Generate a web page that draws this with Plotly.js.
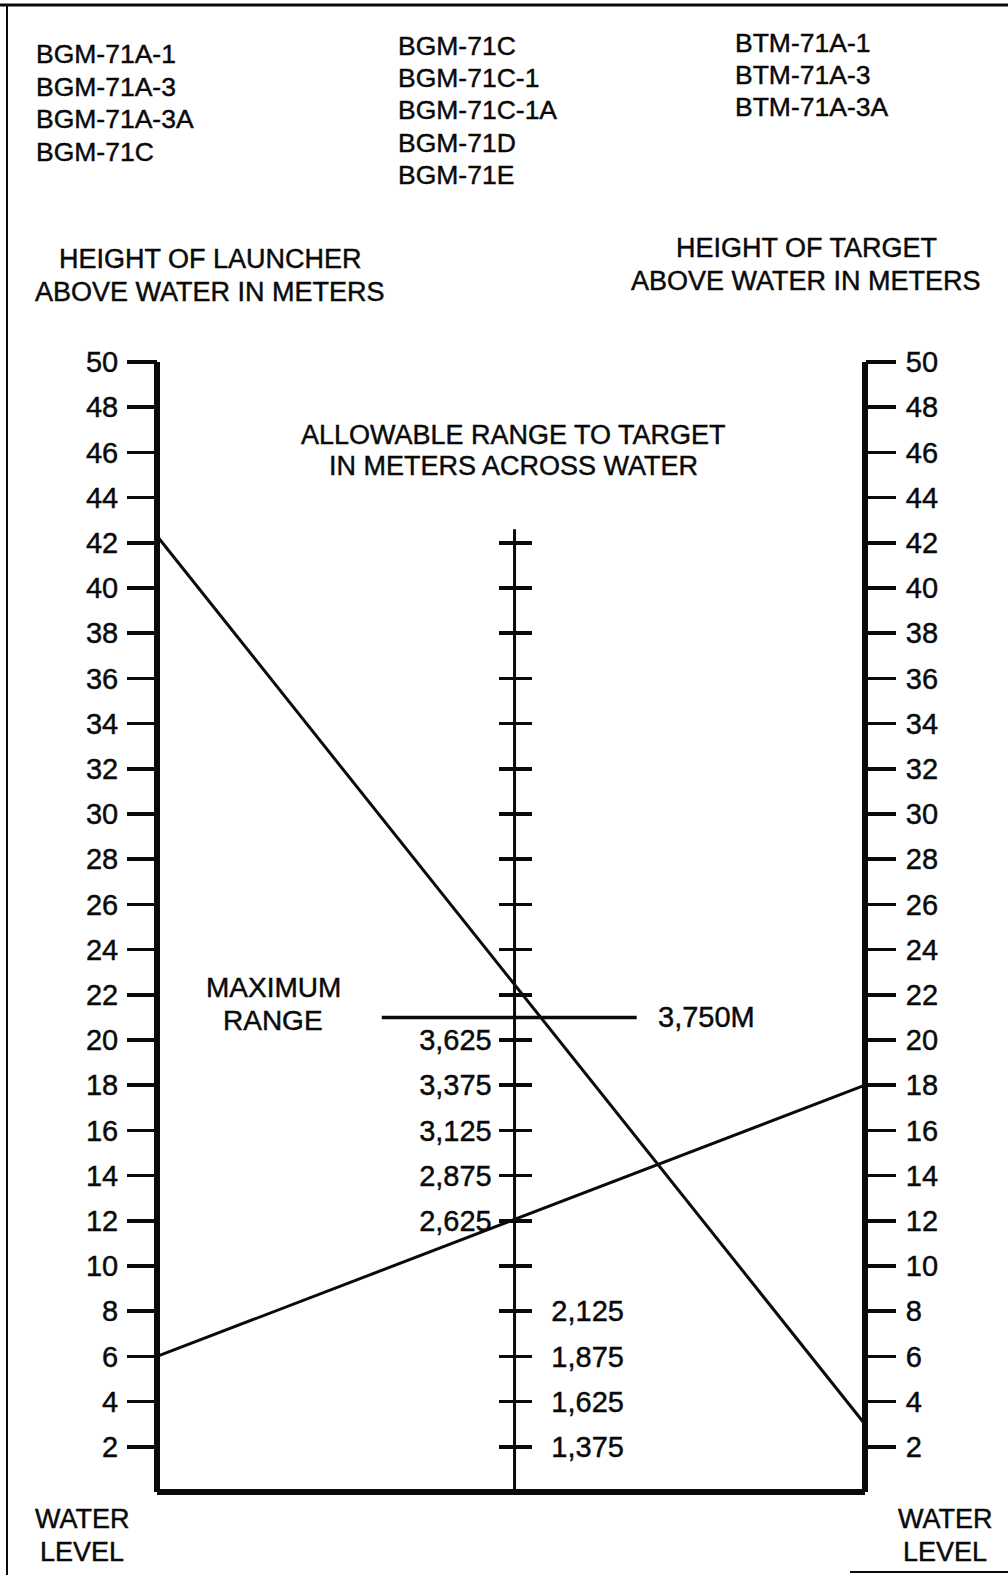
<!DOCTYPE html>
<html>
<head>
<meta charset="utf-8">
<script src="https://cdn.plot.ly/plotly-3.0.1.min.js"></script>
<style>
html,body{margin:0;padding:0;background:#fff;}
#chart{width:1008px;height:1575px;}
#chart svg text{stroke:#0a0a0a;stroke-width:0.45px;}
</style>
</head>
<body>
<div id="chart"></div>
<script>
// ---------- data ----------
const launcherModels = ["BGM-71A-1", "BGM-71A-3", "BGM-71A-3A", "BGM-71C"];
const middleModels = ["BGM-71C", "BGM-71C-1", "BGM-71C-1A", "BGM-71D", "BGM-71E"];
const trainerModels = ["BTM-71A-1", "BTM-71A-3", "BTM-71A-3A"];

const launcherTitle = ["HEIGHT OF LAUNCHER", "ABOVE WATER IN METERS"];
const targetTitle = ["HEIGHT OF TARGET", "ABOVE WATER IN METERS"];
const rangeTitle = ["ALLOWABLE RANGE TO TARGET", "IN METERS ACROSS WATER"];
const maxRangeTitle = ["MAXIMUM", "RANGE"];
const waterTitle = ["WATER", "LEVEL"];

const launcherTicks = [2,4,6,8,10,12,14,16,18,20,22,24,26,28,30,32,34,36,38,40,42,44,46,48,50];
const targetTicks   = [2,4,6,8,10,12,14,16,18,20,22,24,26,28,30,32,34,36,38,40,42,44,46,48,50];
const heightScaleEnds = [0, 50];

// center scale (metres)
const rangeTicks = [1375,1625,1875,2125,2375,2625,2875,3125,3375,3625,3875,4125,4375,4625,4875,5125,5375,5625,5875,6125,6375];
const rangeLabelsLeft  = [2625,2875,3125,3375,3625];
const rangeLabelsRight = [1375,1625,1875,2125];
const rangeLineEnds = [1125, 6450];
const maxRange = 3750;
const maxRangeSpan = [0.635, 1.355];

// scale positions (left, center, right)
const scaleX = [0, 1.01, 2];

// example solutions: launcher height -> target height
const solutionA = {launcher: 42.3, target: 3};
const solutionB = {launcher: 6, target: 18};

// ---------- geometry ----------
const W = 1008, H = 1575;
const pxPerX = 354, x0px = 157;
const pxPerY = 22.6, y0px = 1492;
const xr = [-x0px/pxPerX, (W - x0px)/pxPerX];
const yr = [-(H - y0px)/pxPerY, y0px/pxPerY];
// metres <-> height-unit mapping for center scale: y = 2 + (R-1375)/125
const toM = y => 1375 + (y - 2) * 125;
const mr = [toM(yr[0]), toM(yr[1])];
const paperX = v => (v - xr[0]) / (xr[1] - xr[0]);

const FONT = '"Liberation Sans", Arial, Helvetica, sans-serif';
const INK = '#0a0a0a';
const tf = {family: FONT, size: 29, color: INK};

const traces = [
  {x: [scaleX[0], scaleX[0]], y: heightScaleEnds, xaxis: 'x', yaxis: 'y', mode: 'lines', line: {color: INK, width: 6}, hoverinfo: 'skip'},
  {x: [scaleX[2], scaleX[2]], y: heightScaleEnds, xaxis: 'x', yaxis: 'y2', mode: 'lines', line: {color: INK, width: 6}, hoverinfo: 'skip'},
  {x: [scaleX[0], scaleX[2]], y: [heightScaleEnds[0], heightScaleEnds[0]], xaxis: 'x', yaxis: 'y', mode: 'lines', line: {color: INK, width: 6}, hoverinfo: 'skip'},
  {x: [scaleX[1], scaleX[1]], y: rangeLineEnds, xaxis: 'x', yaxis: 'y3', mode: 'lines', line: {color: INK, width: 3}, hoverinfo: 'skip'},
  {x: maxRangeSpan, y: [maxRange, maxRange], xaxis: 'x', yaxis: 'y4', mode: 'lines', line: {color: INK, width: 3.5}, hoverinfo: 'skip'},
  {x: [scaleX[0], scaleX[2]], y: [solutionA.launcher, solutionA.target], xaxis: 'x', yaxis: 'y', mode: 'lines', line: {color: INK, width: 3}, hoverinfo: 'skip'},
  {x: [scaleX[0], scaleX[2]], y: [solutionB.launcher, solutionB.target], xaxis: 'x', yaxis: 'y', mode: 'lines', line: {color: INK, width: 3}, hoverinfo: 'skip'}
];

const baseY = {
  anchor: 'free', showgrid: false, zeroline: false, showline: false,
  ticks: 'outside', tickcolor: INK, tickwidth: 3.5, tickfont: tf, tickmode: 'array', fixedrange: true
};

const layout = {
  width: W, height: H,
  margin: {l: 0, r: 0, t: 0, b: 0},
  paper_bgcolor: '#fff', plot_bgcolor: '#fff',
  showlegend: false,
  xaxis: {range: xr, visible: false, fixedrange: true},
  yaxis: Object.assign({}, baseY, {range: yr, side: 'left', position: paperX(scaleX[0]),
    tickvals: launcherTicks, ticktext: launcherTicks.map(String), ticklen: 30, ticklabelstandoff: 3}),
  yaxis2: Object.assign({}, baseY, {range: yr, side: 'right', overlaying: 'y', position: paperX(scaleX[2]),
    tickvals: targetTicks, ticktext: targetTicks.map(String), ticklen: 30, ticklabelstandoff: 4}),
  yaxis3: Object.assign({}, baseY, {range: mr, side: 'left', overlaying: 'y', position: paperX(scaleX[1]),
    tickvals: rangeTicks, ticktext: rangeTicks.map(v => rangeLabelsLeft.includes(v) ? v.toLocaleString('en-US') : ''),
    ticklen: 16, ticklabelstandoff: 1}),
  yaxis4: Object.assign({}, baseY, {range: mr, side: 'right', overlaying: 'y', position: paperX(scaleX[1]),
    tickvals: rangeTicks, ticktext: rangeTicks.map(v => rangeLabelsRight.includes(v) ? v.toLocaleString('en-US') : ''),
    ticklen: 16, ticklabelstandoff: 14}),
  shapes: [
    {type: 'line', xref: 'paper', yref: 'paper', x0: 0, x1: 1, y0: 1 - 5/H, y1: 1 - 5/H, line: {color: INK, width: 3}},
    {type: 'line', xref: 'paper', yref: 'paper', x0: 7/W, x1: 7/W, y0: 0, y1: 1 - 5/H, line: {color: INK, width: 2}},
    {type: 'line', xref: 'paper', yref: 'paper', x0: 850/W, x1: 1, y0: 3/H, y1: 3/H, line: {color: INK, width: 2}}
  ],
  annotations: []
};

function note(text, xpx, ypx, xanchor, size) {
  layout.annotations.push({
    text: text, xref: 'paper', yref: 'paper', x: xpx / W, y: 1 - ypx / H,
    xanchor: xanchor, yanchor: 'middle', showarrow: false,
    font: {family: FONT, size: size || 27, color: INK}
  });
}
function block(lines, xpx, ypx0, step, xanchor, size) {
  lines.forEach((t, i) => note(t, xpx, ypx0 + i * step, xanchor, size));
}

block(launcherModels, 34, 54, 32.7, 'left', 26.5);
block(middleModels, 396, 46, 32.2, 'left', 26.5);
block(trainerModels, 733, 43, 32.2, 'left', 26.5);
block(launcherTitle, 210, 259, 32.5, 'center');
block(targetTitle, 806, 248, 32.5, 'center');
block(rangeTitle, 513, 435, 30.5, 'center');
block(maxRangeTitle, 273, 988, 32, 'center', 28);
block(waterTitle, 82, 1519, 33, 'center');
block(waterTitle, 945, 1519, 33, 'center');
layout.annotations.push({
  text: maxRange.toLocaleString('en-US') + 'M', xref: 'x', yref: 'y4', x: maxRangeSpan[1], y: maxRange,
  xanchor: 'left', yanchor: 'middle', xshift: 19, showarrow: false,
  font: {family: FONT, size: 29, color: INK}
});

Plotly.newPlot('chart', traces, layout, {staticPlot: true, displayModeBar: false});
</script>
</body>
</html>
